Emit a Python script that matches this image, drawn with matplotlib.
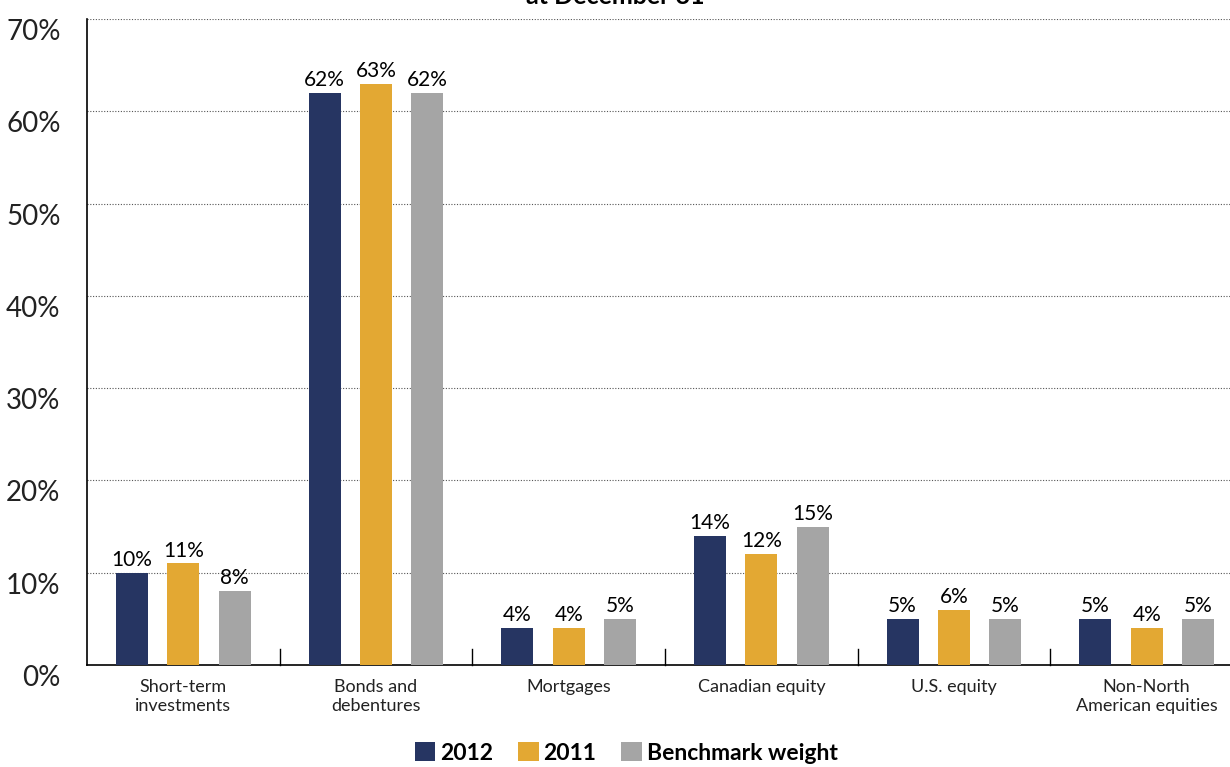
import matplotlib.pyplot as plt
from matplotlib.patches import Patch
import numpy as np

categories = ['Short-term\ninvestments', 'Bonds and\ndebentures', 'Mortgages',
              'Canadian equity', 'U.S. equity', 'Non-North\nAmerican equities']
vals_2012 = [10, 62, 4, 14, 5, 5]
vals_2011 = [11, 63, 4, 12, 6, 4]
vals_bench = [8, 62, 5, 15, 5, 5]
series_names = ['2012', '2011', 'Benchmark weight']
colors = ['#263562', '#E3A833', '#A5A5A5']

plt.rcParams['font.family'] = ['Lato', 'DejaVu Sans']

fig = plt.figure(figsize=(12.3, 7.67), dpi=100)
# axes runs a bit past the right edge of the figure, like the reference
ax = fig.add_axes([87/1230, 1-665/767, 1156/1230, (665-19)/767])

x = np.arange(len(categories))
w = 0.166
off = 0.267
for i, vals in enumerate([vals_2012, vals_2011, vals_bench]):
    pos = x + (i-1)*off
    ax.bar(pos, vals, width=w, color=colors[i], zorder=3)
    for p, v in zip(pos, vals):
        ax.text(p, v+0.3, '%d%%' % v, ha='center', va='bottom', fontsize=15,
                color='black')

ax.set_xlim(-0.5, 5.5)
ax.set_ylim(0, 70)
ax.set_yticks(range(0, 80, 10))
ax.set_yticklabels(['%d%%' % t for t in range(0, 80, 10)], fontsize=20,
                   color='#222222')
for lab in ax.get_yticklabels():
    lab.set_va('top')
ax.tick_params(axis='y', length=0, pad=19)
for t in range(10, 80, 10):
    ax.axhline(t, color='#555555', lw=0.8, ls=(0, (1, 1.5)), zorder=1)

ax.set_xticks(x)
ax.set_xticklabels(categories, fontsize=13, color='#222222', linespacing=1.25)
ax.tick_params(axis='x', length=0, pad=10)
for b in np.arange(0.5, 5.5, 1):
    ax.plot([b, b], [0, 1.7], color='black', lw=1, zorder=4, clip_on=False)

for s in ['top', 'right']:
    ax.spines[s].set_visible(False)
ax.spines['left'].set_linewidth(1.2)
ax.spines['bottom'].set_linewidth(1.2)

# title sits mostly above the top edge, only its lower part shows
fig.text(0.5, 1.004, 'at December 31', ha='center', va='center', fontsize=18,
         fontweight='bold')

handles = [Patch(facecolor=c) for c in colors]
fig.legend(handles, series_names, loc='center', bbox_to_anchor=(0.509, 1-753/767),
           ncol=3, frameon=False, prop={'size': 16.5, 'weight': 'bold'},
           handlelength=0.9, handleheight=0.9, handletextpad=0.2, columnspacing=1.1)

fig.savefig('out.png', dpi=100)
